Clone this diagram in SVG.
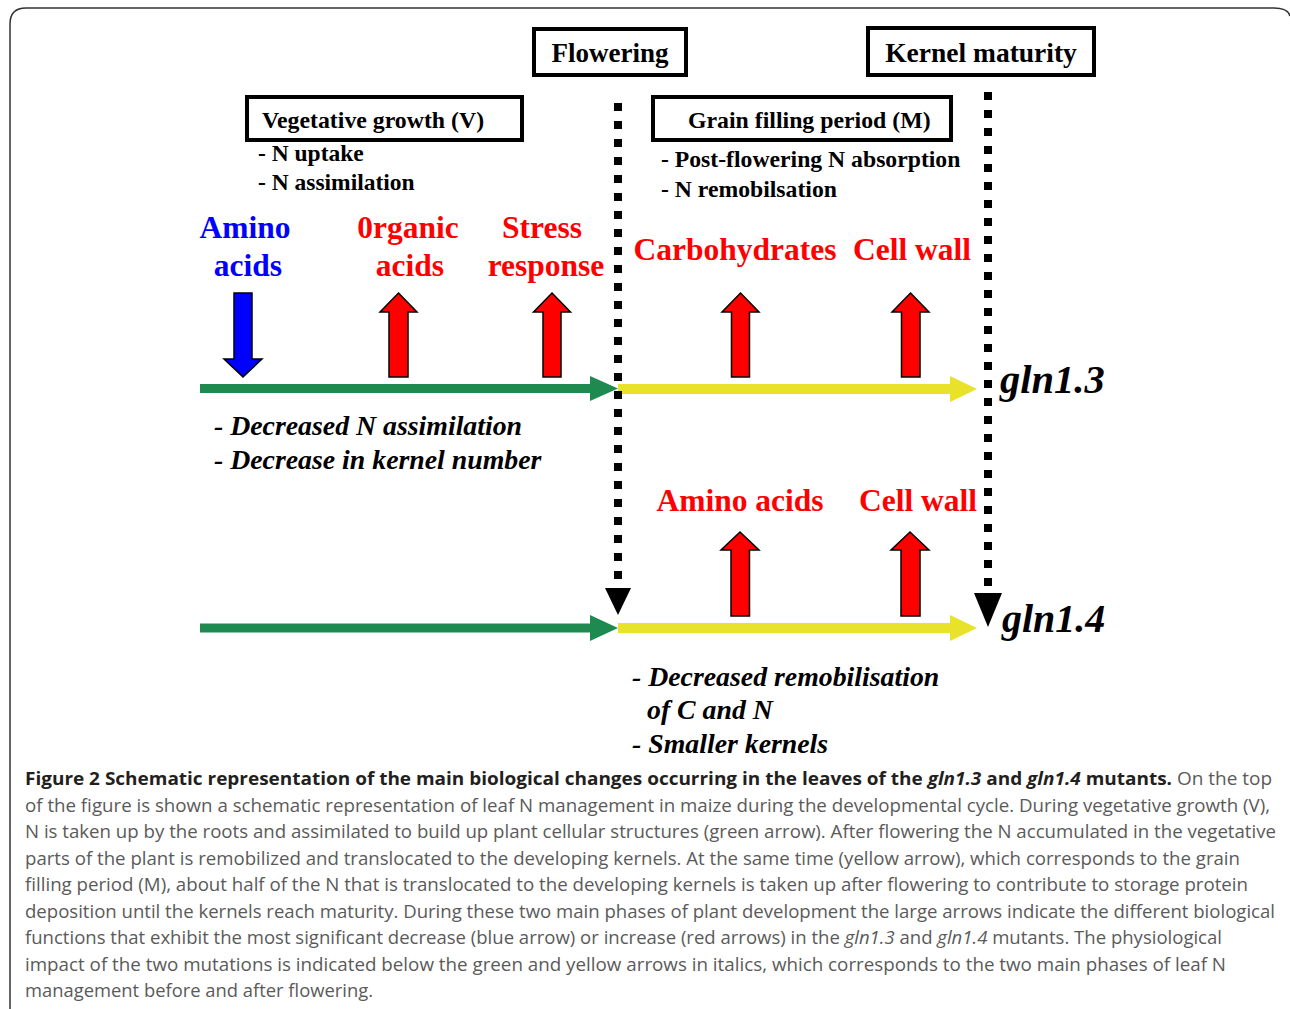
<svg xmlns="http://www.w3.org/2000/svg" width="1290" height="1009" viewBox="0 0 1290 1009">
<defs>
<style>
.bx{fill:#fff;stroke:#000;stroke-width:4}
.t{font-family:"Liberation Serif","Times New Roman",serif;font-weight:bold;fill:#000}
.lab{font-family:"Liberation Serif","Times New Roman",serif;font-weight:bold;font-size:31.5px;text-anchor:middle}
.it{font-family:"Liberation Serif","Times New Roman",serif;font-weight:bold;font-style:italic;fill:#000}
.red{fill:#ff0000}
.up{fill:#ff0000;stroke:#000;stroke-width:1.5;stroke-linejoin:miter}
.dn{fill:#0000ff;stroke:#000;stroke-width:1.5}
.dot{stroke:#000;stroke-width:8;stroke-dasharray:8 10;fill:none}
.cap{font-family:"Open Sans","Noto Sans","Liberation Sans",sans-serif;font-size:18.5px;fill:#5a5a5a}
.capb{font-weight:bold;fill:#231f20}
.green{fill:#1e8a50}
.yellow{fill:#e8e22a}
</style>
</defs>
<rect width="1290" height="1009" fill="#fff"/>
<path d="M10 1009 L10 24 Q10 8 26 8 L1274 8 Q1288 8 1290 16" fill="none" stroke="#333" stroke-width="1.5"/>

<g id="flowering">
<rect class="bx" x="534" y="29" width="152" height="46"/>
<text class="t" x="610" y="62" font-size="27" text-anchor="middle">Flowering</text>
</g>
<g id="kernel-maturity">
<rect class="bx" x="868" y="28" width="226" height="47"/>
<text class="t" x="981" y="62" font-size="27.5" text-anchor="middle">Kernel maturity</text>
</g>
<g id="vegetative">
<rect class="bx" x="247" y="97" width="275" height="43"/>
<text class="t" x="262" y="128" font-size="23.8">Vegetative growth (V)</text>
<text class="t" x="258" y="161" font-size="23.5">- N uptake</text>
<text class="t" x="258" y="190" font-size="23.5">- N assimilation</text>
</g>
<g id="grain-filling">
<rect class="bx" x="653" y="97" width="298" height="43"/>
<text class="t" x="688" y="128" font-size="23.8">Grain filling period (M)</text>
<text class="t" x="661" y="167" font-size="23.7">- Post-flowering N absorption</text>
<text class="t" x="661" y="197" font-size="23.7">- N remobilsation</text>
</g>

<g id="labels-gln13">
<text class="lab" fill="#0000ff" x="245" y="238">Amino</text>
<text class="lab" fill="#0000ff" x="248" y="276">acids</text>
<text class="lab red" x="408" y="238">0rganic</text>
<text class="lab red" x="410" y="276">acids</text>
<text class="lab red" x="542" y="238">Stress</text>
<text class="lab red" x="546" y="276">response</text>
<text class="lab red" x="735" y="260">Carbohydrates</text>
<text class="lab red" x="912" y="260">Cell wall</text>
</g>
<g id="labels-gln14">
<text class="lab red" x="740" y="511">Amino acids</text>
<text class="lab red" x="918" y="511">Cell wall</text>
</g>

<g id="connectors">
<rect class="green" x="200" y="384" width="392" height="9"/>
<polygon class="green" points="590,376 590,401 618,388.5"/>
<rect class="yellow" x="618" y="384" width="334" height="10"/>
<polygon class="yellow" points="950,376 950,402 977,389"/>
<rect class="green" x="200" y="623.5" width="392" height="9"/>
<polygon class="green" points="590,615 590,641 618,628"/>
<rect class="yellow" x="618" y="623" width="334" height="10"/>
<polygon class="yellow" points="950,615 950,641 977,628"/>
<line class="dot" x1="618" y1="103" x2="618" y2="585"/>
<polygon points="605,588 631,588 618,615" fill="#000"/>
<line class="dot" x1="988" y1="92" x2="988" y2="590"/>
<polygon points="974,593 1002,593 988,627" fill="#000"/>
<path class="dn" d="M234,293 L252,293 L252,359 L262,359 L243,377 L224,359 L234,359 Z"/>
<path class="up" d="M398.5,293 L417,312 L408,312 L408,377 L389,377 L389,312 L380,312 Z"/>
<path class="up" d="M552,293 L570.5,312 L561,312 L561,377 L543,377 L543,312 L533.5,312 Z"/>
<path class="up" d="M740.5,293 L759,312 L749.5,312 L749.5,377 L731.5,377 L731.5,312 L722,312 Z"/>
<path class="up" d="M910.5,293 L929,312 L920,312 L920,377 L901.5,377 L901.5,312 L892,312 Z"/>
<path class="up" d="M740,532 L759,550 L749.5,550 L749.5,616 L731,616 L731,550 L721,550 Z"/>
<path class="up" d="M910,532 L929,550 L920,550 L920,616 L901,616 L901,550 L891,550 Z"/>
</g>

<g id="gln13">
<text class="it" x="1000" y="393" font-size="40.5">gln1.3</text>
<text class="it" x="214" y="435" font-size="27.8">- Decreased N assimilation</text>
<text class="it" x="214" y="469" font-size="27.8">- Decrease in kernel number</text>
</g>
<g id="gln14">
<text class="it" x="1002" y="632" font-size="40">gln1.4</text>
<text class="it" x="632" y="686" font-size="27.8">- Decreased remobilisation</text>
<text class="it" x="647" y="719" font-size="27.8">of C and  N</text>
<text class="it" x="632" y="753" font-size="27.8">- Smaller kernels</text>
</g>

<g id="caption">
<text class="cap" x="25" y="785" textLength="1247" lengthAdjust="spacingAndGlyphs"><tspan class="capb">Figure 2 Schematic representation of the main biological changes occurring in the leaves of the <tspan font-style="italic">gln1.3</tspan> and <tspan font-style="italic">gln1.4</tspan> mutants.</tspan> On the top</text>
<text class="cap" x="25" y="811.5" textLength="1245" lengthAdjust="spacingAndGlyphs">of the figure is shown a schematic representation of leaf N management in maize during the developmental cycle. During vegetative growth (V),</text>
<text class="cap" x="25" y="838" textLength="1251" lengthAdjust="spacingAndGlyphs">N is taken up by the roots and assimilated to build up plant cellular structures (green arrow). After flowering the N accumulated in the vegetative</text>
<text class="cap" x="25" y="864.5" textLength="1215" lengthAdjust="spacingAndGlyphs">parts of the plant is remobilized and translocated to the developing kernels. At the same time (yellow arrow), which corresponds to the grain</text>
<text class="cap" x="25" y="891" textLength="1223" lengthAdjust="spacingAndGlyphs">filling period (M), about half of the N that is translocated to the developing kernels is taken up after flowering to contribute to storage protein</text>
<text class="cap" x="25" y="917.5" textLength="1250" lengthAdjust="spacingAndGlyphs">deposition until the kernels reach maturity. During these two main phases of plant development the large arrows indicate the different biological</text>
<text class="cap" x="25" y="944" textLength="1197" lengthAdjust="spacingAndGlyphs">functions that exhibit the most significant decrease (blue arrow) or increase (red arrows) in the <tspan font-style="italic">gln1.3</tspan> and <tspan font-style="italic">gln1.4</tspan> mutants. The physiological</text>
<text class="cap" x="25" y="970.5" textLength="1201" lengthAdjust="spacingAndGlyphs">impact of the two mutations is indicated below the green and yellow arrows in italics, which corresponds to the two main phases of leaf N</text>
<text class="cap" x="25" y="997" textLength="348" lengthAdjust="spacingAndGlyphs">management before and after flowering.</text>
</g>
</svg>
